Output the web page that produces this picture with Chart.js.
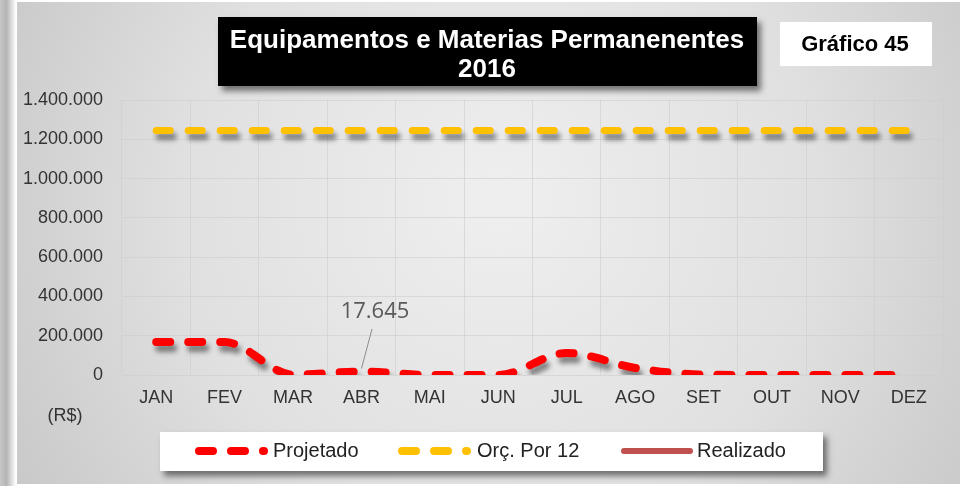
<!DOCTYPE html>
<html>
<head>
<meta charset="utf-8">
<script src="https://cdn.jsdelivr.net/npm/chart.js@4"></script>
<style>
    html, body { margin: 0; padding: 0; background: #fff; }
    #wrap { position: relative; width: 963px; height: 486px; }
</style>
</head>
<body>
<div id="wrap"><canvas id="myChart" width="963" height="486"></canvas></div>
<script>
// chart data
const meses = ["JAN", "FEV", "MAR", "ABR", "MAI", "JUN", "JUL", "AGO", "SET", "OUT", "NOV", "DEZ"]
const projetado = [168000, 168000, 2000, 17645, 0, 0, 112000, 36000, 2000, 0, 0, 0]
const orcPor12 = [1245000, 1245000, 1245000, 1245000, 1245000, 1245000, 1245000, 1245000, 1245000, 1245000, 1245000, 1245000]
const realizado = [null, null, null, null, null, null, null, null, null, null, null, null]
const yTicks = [0, 200000, 400000, 600000, 800000, 1000000, 1200000, 1400000]
const tituloLinhas = ["Equipamentos e Materias Permanenentes", "2016"]
const graficoNum = "Gráfico 45"
const labelIndex = 3 // ABR gets the data label

function fmt(v){
    // 1400000 -> "1.400.000"
    return String(Math.round(v)).replace(/\B(?=(\d{3})+(?!\d))/g, ".")
}

// background panel, title boxes, legend etc
const decor = {
    id: "decor",
    beforeDraw(chart){
        const ctx = chart.ctx
        ctx.save()
        // left shadow strip
        const g1 = ctx.createLinearGradient(0, 0, 16, 0)
        g1.addColorStop(0, "#c8c8c8")
        g1.addColorStop(0.4, "#b4b4b4")
        g1.addColorStop(1, "#ffffff")
        ctx.fillStyle = g1
        ctx.fillRect(0, 0, 16, 486)
        // panel
        const g = ctx.createRadialGradient(500, 200, 20, 500, 220, 620)
        g.addColorStop(0, "#eeeeee")
        g.addColorStop(0.5, "#e0e0e0")
        g.addColorStop(1, "#c2c2c2")
        ctx.fillStyle = g
        ctx.fillRect(17, 2, 943, 482)
        ctx.restore()
    },
    beforeDatasetDraw(chart){
        const ctx = chart.ctx
        ctx.save()
        ctx.shadowColor = "rgba(0,0,0,0.45)"
        ctx.shadowBlur = 5
        ctx.shadowOffsetX = 3
        ctx.shadowOffsetY = 6
    },
    afterDatasetDraw(chart){
        chart.ctx.restore()
    },
    afterDraw(chart){
        const ctx = chart.ctx
        ctx.save()

        // title box
        ctx.shadowColor = "rgba(0,0,0,0.5)"
        ctx.shadowBlur = 6
        ctx.shadowOffsetX = 4
        ctx.shadowOffsetY = 5
        ctx.fillStyle = "#000"
        ctx.fillRect(218, 17, 539, 69)
        // legend box
        ctx.fillStyle = "#fff"
        ctx.fillRect(160, 432, 663, 39)
        ctx.shadowColor = "transparent"
        // numero do grafico
        ctx.fillRect(780, 22, 152, 44)

        ctx.textAlign = "center"
        ctx.textBaseline = "middle"
        ctx.fillStyle = "#fff"
        ctx.font = "bold 26px 'Liberation Sans', Arial"
        ctx.fillText(tituloLinhas[0], 487, 41)
        ctx.fillText(tituloLinhas[1], 487, 70)
        ctx.fillStyle = "#000"
        ctx.font = "bold 22px 'Liberation Sans', Arial"
        ctx.fillText(graficoNum, 855, 45)

        // (R$)
        ctx.fillStyle = "#333"
        ctx.font = "18px 'Liberation Sans', Arial"
        ctx.fillText("(R$)", 65, 416)

        // data label with leader line
        const pt = chart.getDatasetMeta(0).data[labelIndex]
        ctx.strokeStyle = "#8c8c8c"
        ctx.lineWidth = 1
        ctx.beginPath()
        ctx.moveTo(372, 329)
        ctx.lineTo(pt.x, pt.y - 3)
        ctx.stroke()
        ctx.fillStyle = "#595959"
        ctx.font = "22px 'Open Sans', sans-serif"
        ctx.fillText(fmt(projetado[labelIndex]), 375, 312)

        // legend
        const items = [
            { ds: chart.data.datasets[0], x1: 199, x2: 264, tx: 273 },
            { ds: chart.data.datasets[1], x1: 402, x2: 467, tx: 477 },
            { ds: chart.data.datasets[2], x1: 624, x2: 690, tx: 697 },
        ]
        ctx.textAlign = "left"
        ctx.font = "20px 'Liberation Sans', Arial"
        items.forEach(it => {
            ctx.beginPath()
            ctx.strokeStyle = it.ds.borderColor
            ctx.lineWidth = it.ds.borderDash ? 8 : 6
            ctx.lineCap = "round"
            ctx.setLineDash(it.ds.borderDash || [])
            ctx.moveTo(it.x1, 451)
            ctx.lineTo(it.x2, 451)
            ctx.stroke()
            ctx.setLineDash([])
            ctx.fillStyle = "#222"
            ctx.fillText(it.ds.label, it.tx, 451)
        })
        ctx.restore()
    }
}

const ctx = document.getElementById("myChart")
const myChart = new Chart(ctx, {
    type: "line",
    data: {
        labels: meses,
        datasets: [
            {
                label: "Projetado",
                data: projetado,
                borderColor: "#ff0000",
                borderWidth: 8,
                borderDash: [14, 18],
                borderCapStyle: "round",
                cubicInterpolationMode: "monotone",
                pointRadius: 0,
            },
            {
                label: "Orç. Por 12",
                data: orcPor12,
                borderColor: "#ffc000",
                borderWidth: 7,
                borderDash: [14, 18],
                borderCapStyle: "round",
                pointRadius: 0,
            },
            {
                label: "Realizado",
                data: realizado,
                borderColor: "#c0504d",
                borderWidth: 6,
                pointRadius: 0,
            },
        ]
    },
    options: {
        responsive: false,
        animation: false,
        layout: {
            padding: { left: 20, top: 100, right: 20, bottom: 71 }
        },
        scales: {
            x: {
                offset: true,
                grid: { color: "rgba(205,205,205,0.6)", drawTicks: false, offset: true },
                border: { display: false },
                ticks: {
                    color: "#333",
                    padding: 12,
                    font: { family: "'Liberation Sans', Arial", size: 18 }
                },
                afterFit(s){ s.height = 40 }
            },
            y: {
                min: 0,
                max: 1400000,
                grid: { color: "rgba(205,205,205,0.6)", drawTicks: false },
                border: { display: false },
                afterBuildTicks(s){ s.ticks = yTicks.map(v => ({ value: v })) },
                ticks: {
                    color: "#333",
                    padding: 19,
                    font: { family: "'Liberation Sans', Arial", size: 18 },
                    callback: v => fmt(v)
                },
                afterFit(s){ s.width = 102 }
            }
        },
        plugins: {
            legend: { display: false },
            title: { display: false },
            tooltip: { enabled: false }
        }
    },
    plugins: [decor]
})
</script>
</body>
</html>
